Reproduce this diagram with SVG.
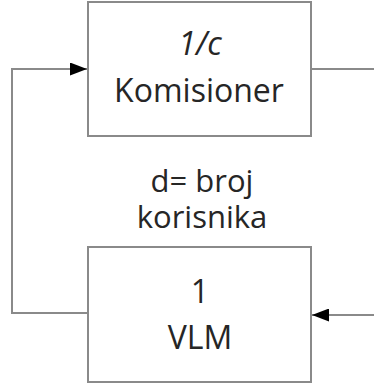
<svg xmlns="http://www.w3.org/2000/svg" width="374" height="387" viewBox="0 0 374 387">
<defs>
<style>
.box{fill:#fff;stroke:#8a8a8a;stroke-width:2}
.ln{fill:none;stroke:#8a8a8a;stroke-width:2}
.t{font-family:"Open Sans","Liberation Sans",sans-serif;font-size:32px;fill:#262626;text-anchor:middle}
.s{font-size:31px}
</style>
<marker id="ah" markerWidth="17" markerHeight="13" refX="17" refY="6.5" orient="auto" markerUnits="userSpaceOnUse">
<path d="M0,0 L17,6.5 L0,13 Z" fill="#000"/>
</marker>
</defs>
<rect width="374" height="387" fill="#fff"/>
<g id="connectors">
<polyline class="ln" points="88,313 12,313 12,69 87,69" marker-end="url(#ah)"/>
<line class="ln" x1="311" y1="69" x2="374" y2="69"/>
<line class="ln" x1="374" y1="315" x2="312" y2="315" marker-end="url(#ah)"/>
</g>
<g id="komisioner">
<rect class="box" x="88" y="2" width="223" height="134"/>
<text class="t" x="200" y="55" font-style="italic">1/c</text>
<text class="t" x="199" y="102">Komisioner</text>
</g>
<g id="label">
<text class="t s"><tspan x="202" y="192">d= broj</tspan><tspan x="202" y="228">korisnika</tspan></text>
</g>
<g id="vlm">
<rect class="box" x="88" y="247" width="223" height="135"/>
<text class="t" x="200" y="303">1</text>
<text class="t" x="200" y="349">VLM</text>
</g>
</svg>
